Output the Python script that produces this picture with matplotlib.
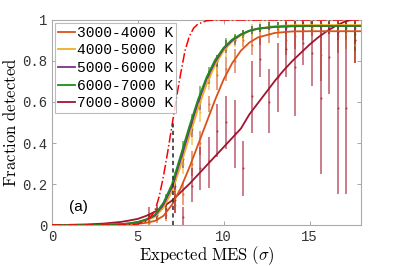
import matplotlib
matplotlib.use("Agg")
import matplotlib.pyplot as plt

# ---- data ----
labels = ["3000-4000 K", "4000-5000 K", "5000-6000 K", "6000-7000 K", "7000-8000 K"]
colors = ["#D95319", "#EDB120", "#7E2F8E", "#1E8C1E", "#A2142F"]

curve_x = [0, 1, 2, 3, 4, 4.5, 5, 5.5, 6, 6.5, 7, 7.5, 8, 8.5, 9, 9.5, 10, 10.5,
           11, 11.5, 12, 13, 14, 15, 16, 17, 18]
orange_y = [0, 0, 0, 0, 0.002, 0.003, 0.006, 0.011, 0.02, 0.045, 0.10, 0.18, 0.28, 0.39,
            0.50, 0.61, 0.71, 0.79, 0.85, 0.89, 0.915, 0.937, 0.944, 0.945, 0.945, 0.945, 0.945]
yellow_y = [0, 0, 0, 0.001, 0.003, 0.006, 0.012, 0.022, 0.04, 0.085, 0.165, 0.29, 0.43, 0.565,
            0.685, 0.78, 0.85, 0.895, 0.925, 0.946, 0.958, 0.97, 0.974, 0.975, 0.975, 0.975, 0.975]
purple_y = [0, 0, 0, 0.001, 0.004, 0.008, 0.014, 0.026, 0.046, 0.10, 0.185, 0.32, 0.46, 0.595,
            0.71, 0.795, 0.86, 0.90, 0.928, 0.947, 0.957, 0.966, 0.969, 0.97, 0.97, 0.97, 0.97]
green_y = [0, 0, 0, 0.001, 0.004, 0.008, 0.015, 0.028, 0.05, 0.11, 0.20, 0.34, 0.48, 0.61,
           0.72, 0.805, 0.865, 0.905, 0.93, 0.948, 0.958, 0.967, 0.97, 0.971, 0.971, 0.971, 0.971]

darkred_x = [0.7, 1, 2, 3, 4, 4.5, 5, 5.5, 6, 6.5, 7, 7.5, 8, 8.5, 9, 9.5, 10, 10.5, 11,
             11.5, 12, 12.5, 13, 13.5, 14, 14.5, 15, 15.5, 16, 16.5, 17, 17.4]
darkred_y = [0, 0.001, 0.003, 0.007, 0.015, 0.022, 0.03, 0.045, 0.065, 0.09, 0.12, 0.16, 0.20,
             0.245, 0.29, 0.335, 0.38, 0.425, 0.47, 0.54, 0.595, 0.65, 0.705, 0.755, 0.80,
             0.84, 0.88, 0.915, 0.945, 0.97, 0.99, 1.0]

ideal_x = [0, 4, 5, 5.5, 5.75, 6, 6.25, 6.5, 6.75, 7, 7.25, 7.5, 7.75, 8, 8.25, 8.5, 9, 9.5, 18]
ideal_y = [0, 0, 0.005, 0.02, 0.04, 0.07, 0.14, 0.24, 0.36, 0.49, 0.62, 0.74, 0.85, 0.92,
           0.96, 0.98, 0.996, 1.0, 1.0]

mes_threshold = 7.05

# binned measurements: centre, lower, upper
bin_x = [5.64, 6.14, 6.64, 7.14, 7.64, 8.14, 8.64, 9.14, 9.64, 10.14, 10.64, 11.14, 11.64,
         12.14, 12.64, 13.14, 13.64, 14.14, 14.64, 15.14, 15.64, 16.14, 16.64, 17.14, 17.64]

orange_c = [0.01, 0.03, 0.05, 0.10, 0.15, 0.30, 0.40, 0.59, 0.73, 0.76, 0.80, 0.90, 0.88,
            0.92, 0.93, 0.95, 0.90, 0.92, 0.95, 0.96, 0.83, 0.97, 0.92, 0.95, 0.90]
orange_lo = [0.0, 0.01, 0.02, 0.06, 0.10, 0.24, 0.34, 0.55, 0.66, 0.70, 0.74, 0.87, 0.83,
             0.88, 0.89, 0.91, 0.83, 0.86, 0.90, 0.92, 0.70, 0.93, 0.84, 0.90, 0.79]
orange_hi = [0.03, 0.06, 0.09, 0.15, 0.21, 0.36, 0.46, 0.63, 0.79, 0.82, 0.86, 0.93, 0.93,
             0.96, 0.97, 0.98, 0.97, 0.97, 0.99, 1.0, 0.95, 1.0, 1.0, 1.0, 1.0]

yellow_c = [0.02, 0.04, 0.09, 0.17, 0.30, 0.44, 0.55, 0.70, 0.77, 0.86, 0.90, 0.92, 0.95,
            0.96, 0.97, 0.96, 0.97, 0.98, 0.97, 0.96, 0.98, 0.97, 0.95, 0.93, 0.88]
yellow_lo = [0.0, 0.02, 0.06, 0.13, 0.25, 0.39, 0.50, 0.66, 0.73, 0.82, 0.87, 0.89, 0.92,
             0.93, 0.94, 0.92, 0.94, 0.95, 0.93, 0.92, 0.95, 0.93, 0.90, 0.86, 0.79]
yellow_hi = [0.04, 0.07, 0.12, 0.21, 0.35, 0.49, 0.60, 0.74, 0.81, 0.90, 0.93, 0.95, 0.98,
             0.99, 1.0, 0.99, 1.0, 1.0, 1.0, 1.0, 1.0, 1.0, 1.0, 1.0, 0.98]

purple_c = [0.03, 0.05, 0.11, 0.19, 0.32, 0.47, 0.60, 0.72, 0.80, 0.87, 0.90, 0.93, 0.95,
            0.96, 0.97, 0.97, 0.96, 0.97, 0.98, 0.97, 0.97, 0.96, 0.94, 0.97, 0.96]
purple_lo = [0.01, 0.03, 0.08, 0.16, 0.28, 0.43, 0.56, 0.69, 0.77, 0.84, 0.88, 0.91, 0.93,
             0.94, 0.95, 0.95, 0.93, 0.94, 0.96, 0.94, 0.94, 0.93, 0.90, 0.94, 0.92]
purple_hi = [0.05, 0.08, 0.14, 0.22, 0.36, 0.51, 0.64, 0.75, 0.83, 0.90, 0.92, 0.95, 0.97,
             0.98, 0.99, 0.99, 0.99, 1.0, 1.0, 1.0, 1.0, 0.99, 0.98, 1.0, 1.0]

green_c = [0.03, 0.06, 0.12, 0.22, 0.37, 0.50, 0.64, 0.74, 0.80, 0.88, 0.91, 0.93, 0.95,
           0.96, 0.97, 0.97, 0.97, 0.98, 0.97, 0.97, 0.98, 0.97, 0.97, 0.96, 0.93]
green_lo = [0.01, 0.03, 0.09, 0.18, 0.33, 0.46, 0.60, 0.71, 0.77, 0.85, 0.89, 0.91, 0.93,
            0.94, 0.95, 0.95, 0.95, 0.96, 0.95, 0.94, 0.96, 0.94, 0.94, 0.92, 0.85]
green_hi = [0.05, 0.09, 0.15, 0.26, 0.41, 0.54, 0.68, 0.77, 0.83, 0.91, 0.93, 0.95, 0.97,
            0.98, 0.99, 0.99, 0.99, 1.0, 0.99, 1.0, 1.0, 1.0, 1.0, 1.0, 1.0]

darkred_c = [0.05, 0.06, 0.08, 0.12, 0.04, 0.19, 0.28, 0.31, 0.46, 0.50, 0.45, 0.28, 0.63,
             0.81, 0.60, 0.72, 0.86, 0.77, 0.89, 0.84, 0.62, 0.82, 0.57, 0.57, 0.90]
darkred_lo = [0.01, 0.02, 0.03, 0.06, 0.0, 0.11, 0.17, 0.18, 0.33, 0.37, 0.28, 0.14, 0.45,
              0.72, 0.45, 0.55, 0.72, 0.53, 0.78, 0.68, 0.25, 0.64, 0.15, 0.15, 0.79]
darkred_hi = [0.09, 0.10, 0.14, 0.19, 0.09, 0.28, 0.38, 0.43, 0.59, 0.63, 0.61, 0.41, 0.80,
              0.91, 0.76, 0.89, 1.0, 1.0, 1.0, 1.0, 1.0, 1.0, 1.0, 1.0, 1.0]

# ---- plot ----
plt.rcParams["mathtext.fontset"] = "cm"
fig = plt.figure(figsize=(3.99, 2.66), dpi=100)
ax = fig.add_axes([0.130, 0.154, 0.775, 0.771])

bars = [(orange_c, orange_lo, orange_hi), (yellow_c, yellow_lo, yellow_hi),
        (purple_c, purple_lo, purple_hi), (green_c, green_lo, green_hi),
        (darkred_c, darkred_lo, darkred_hi)]
for (c, lo, hi), col in zip(bars, colors):
    err = [[ci - l for ci, l in zip(c, lo)], [h - ci for ci, h in zip(c, hi)]]
    ax.errorbar(bin_x, c, yerr=err, fmt=".", ms=1.2, color=col, ecolor=col,
                elinewidth=1.3, alpha=0.6, capsize=0, zorder=2)

curves = [(darkred_x, darkred_y, 4), (curve_x, orange_y, 0), (curve_x, yellow_y, 1),
          (curve_x, purple_y, 2), (curve_x, green_y, 3)]
handles = {}
for xs, ys, i in curves:
    handles[i], = ax.plot(xs, ys, color=colors[i], lw=1.3, zorder=3, label=labels[i])

ax.plot(ideal_x, ideal_y, color="red", lw=1.1, ls="-.", zorder=4)
ax.plot([mes_threshold, mes_threshold], [0, 0.5], color="#333333", lw=1.2,
        ls=(0, (2.5, 2)), zorder=4)

ax.text(1.0, 0.088, "(a)", family="Liberation Sans", fontsize=11, va="center")

ax.set_xlim(0, 18)
ax.set_ylim(0, 1)
ax.set_xticks([0, 5, 10, 15])
ax.set_yticks([0, 0.2, 0.4, 0.6, 0.8, 1])
ax.set_yticklabels(["0", "0.2", "0.4", "0.6", "0.8", "1"])
ax.tick_params(direction="in", top=True, right=True, length=3, width=0.6,
               color="#999999", labelcolor="#333333", labelsize=10)
for lab in ax.get_xticklabels() + ax.get_yticklabels():
    lab.set_family("Liberation Mono")
for sp in ax.spines.values():
    sp.set_color("#aaaaaa")
    sp.set_linewidth(0.8)

ax.set_xlabel(r"$\mathrm{Expected\ MES\ }(\sigma)$", fontsize=12, labelpad=0)
ax.set_ylabel(r"$\mathrm{Fraction\ detected}$", fontsize=12, labelpad=1)

leg = ax.legend([handles[i] for i in range(5)], labels, loc="upper left",
                prop={"family": "Liberation Mono", "size": 10.5},
                frameon=True, fancybox=False, edgecolor="#aaaaaa",
                handlelength=1.2, handletextpad=0.1, borderpad=0.2,
                labelspacing=0.25, borderaxespad=0.2)
leg.get_frame().set_linewidth(0.8)

fig.savefig("out.png", dpi=100)
